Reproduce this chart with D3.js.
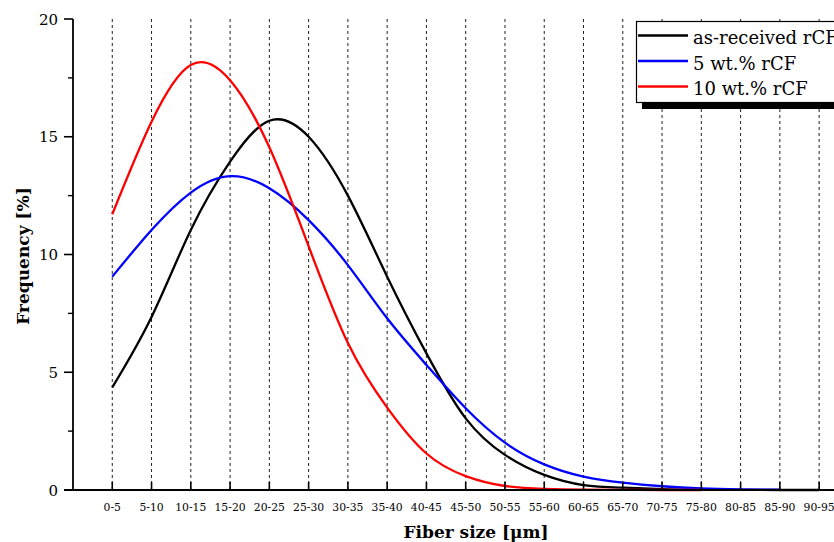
<!DOCTYPE html>
<html><head><meta charset="utf-8">
<script src="https://cdn.jsdelivr.net/npm/d3@7"></script>
<style>html,body{margin:0;padding:0;background:#fff;overflow:hidden}</style>
</head><body>
<svg id="c" width="834" height="542"></svg>
<script>
const categories = ["0-5","5-10","10-15","15-20","20-25","25-30","30-35","35-40","40-45","45-50","50-55","55-60","60-65","65-70","70-75","75-80","80-85","85-90","90-95"];
const asReceived = [4.36,7.35,11.04,13.94,15.68,15.0,12.5,9.06,5.8,3.04,1.49,0.64,0.21,0.10,0.04,0.015,0.005,0.0,0.0];
const wt5 = [9.06,11.04,12.63,13.33,12.81,11.46,9.55,7.29,5.31,3.47,2.01,1.09,0.57,0.31,0.16,0.07,0.03,0.01];
const wt10 = [11.71,15.64,18.05,17.4,14.55,10.35,6.24,3.5,1.55,0.59,0.17,0.05,0.015,0.005,0.0,0.0];
const yTicks = [0,5,10,15,20];
const yMinor = [2.5,7.5,12.5,17.5];
const seriesNames = ["as-received rCF","5 wt.% rCF","10 wt.% rCF"];
const seriesColors = ["#000000","#0000ff","#ff0000"];

const svg = d3.select("#c");
const x = d3.scalePoint().domain(categories).range([73, 73 + 39.27*20]).padding(1);
const y = d3.scaleLinear().domain([0,20]).range([490,19]);
const serif = "'DejaVu Serif', serif";

// grid
svg.append("g").selectAll("line").data(categories).join("line")
  .attr("x1", d=>x(d)).attr("x2", d=>x(d)).attr("y1", y(20)).attr("y2", y(0))
  .attr("stroke","#222").attr("stroke-width",1).attr("stroke-dasharray","3,3");

// curves
const line = d3.line().x(d=>x(d.c)).y(d=>y(Math.max(0,d.v))).curve(d3.curveNatural);
[asReceived, wt5, wt10].forEach((arr,k)=>{
  const data = arr.map((v,i)=>({c:categories[i], v}));
  svg.append("path").datum(data).attr("d",line).attr("fill","none")
    .attr("stroke",seriesColors[k]).attr("stroke-width",2.3).attr("stroke-linejoin","round");
});

// x axis
const xg = svg.append("g").attr("transform",`translate(0,${y(0)})`);
xg.append("line").attr("x1",64).attr("x2",900).attr("y1",0).attr("y2",0).attr("stroke","#000").attr("stroke-width",1.8);
xg.selectAll("line.t").data(categories).join("line").attr("class","t")
  .attr("x1",d=>x(d)).attr("x2",d=>x(d)).attr("y1",0).attr("y2",-8).attr("stroke","#000").attr("stroke-width",1.6);
xg.selectAll("text").data(categories).join("text")
  .attr("x",d=>x(d)).attr("y",21).attr("text-anchor","middle")
  .attr("font-family",serif).attr("font-size",10.8).attr("fill","#000").text(d=>d);

// y axis
const yg = svg.append("g").attr("transform","translate(73,0)");
yg.append("line").attr("x1",0).attr("x2",0).attr("y1",y(20)).attr("y2",y(0)+0.9).attr("stroke","#000").attr("stroke-width",1.8);
yg.selectAll("line.maj").data(yTicks).join("line").attr("class","maj")
  .attr("x1",-9).attr("x2",0).attr("y1",d=>y(d)).attr("y2",d=>y(d)).attr("stroke","#000").attr("stroke-width",1.6);
yg.selectAll("line.min").data(yMinor).join("line").attr("class","min")
  .attr("x1",-5).attr("x2",0).attr("y1",d=>y(d)).attr("y2",d=>y(d)).attr("stroke","#000").attr("stroke-width",1.4);
yg.selectAll("text").data(yTicks).join("text")
  .attr("x",-15).attr("y",d=>y(d)+5.5).attr("text-anchor","end")
  .attr("font-family",serif).attr("font-size",15).attr("fill","#000").text(d=>d);

// titles
svg.append("text").attr("x",476).attr("y",538).attr("text-anchor","middle")
  .attr("font-family",serif).attr("font-weight","bold").attr("font-size",17).text("Fiber size [μm]");
svg.append("text").attr("transform","translate(29,256) rotate(-90)").attr("text-anchor","middle")
  .attr("font-family",serif).attr("font-weight","bold").attr("font-size",17).text("Frequency [%]");

// legend
const lg = svg.append("g");
lg.append("rect").attr("x",642).attr("y",27).attr("width",300).attr("height",82).attr("fill","#000");
lg.append("rect").attr("x",636.5).attr("y",21.5).attr("width",300).attr("height",81).attr("fill","#fff").attr("stroke","#000").attr("stroke-width",1.2);
seriesNames.forEach((n,k)=>{
  const by = 44 + k*25.5;
  lg.append("line").attr("x1",638).attr("x2",688).attr("y1",by-8.5).attr("y2",by-8.5)
    .attr("stroke",seriesColors[k]).attr("stroke-width",2.3);
  lg.append("text").attr("x",693).attr("y",by).attr("font-family",serif).attr("font-size",18).attr("fill","#000").text(n);
});
</script>
</body></html>
